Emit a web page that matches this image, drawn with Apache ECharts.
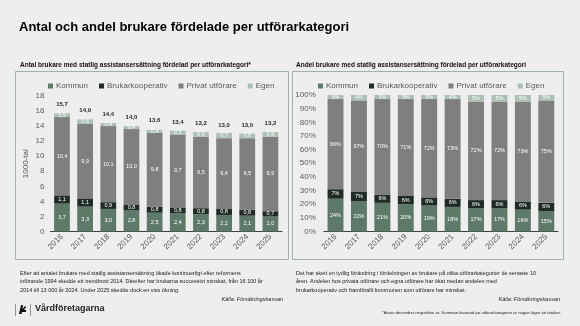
<!DOCTYPE html>
<html><head><meta charset="utf-8">
<script src="https://cdn.jsdelivr.net/npm/echarts@6/dist/echarts.min.js"></script>
<style>html,body{margin:0;padding:0;background:#eeeeee}#c{width:580px;height:326px}</style>
</head><body><div id="c"></div><script>
const years = ['2016','2017','2018','2019','2020','2021','2022','2023','2024','2025'];
const seriesNames = ['Kommun','Brukarkooperativ','Privat utförare','Egen'];
const kommun = [3.7,3.3,3.0,2.8,2.5,2.4,2.3,2.2,2.1,2.0];
const brukar = [1.1,1.1,0.9,0.8,0.8,0.8,0.8,0.8,0.8,0.7];
const privat = [10.4,9.9,10.1,10.0,9.8,9.7,9.5,9.4,9.5,9.9];
const egen = [0.5,0.6,0.4,0.4,0.4,0.5,0.6,0.7,0.6,0.6];
const totals = [15.7,14.9,14.4,14.0,13.6,13.4,13.2,13.0,13.0,13.2];
const kommunPct = [24,22,21,20,19,18,17,17,16,15];
const brukarPct = [7,7,6,6,6,6,6,6,6,6];
const privatPct = [66,67,70,71,72,73,72,72,73,75];
const egenPct = [3,4,3,3,3,4,5,5,5,5];

const colors = ['#5d7a68','#1f2c25','#7f7f7f','#a9c0b2'];
const FONT = '"Liberation Sans", Arial, sans-serif';
const grey = '#595959';
const fmtNum = v => v.toFixed(1).replace('.', ',');

const chart = echarts.init(document.getElementById('c'), null, {renderer:'canvas'});

function barSeries(data, idx, axisIdx, pct){
  return {
    name: seriesNames[idx], type:'bar', stack: 's'+axisIdx,
    xAxisIndex: axisIdx, yAxisIndex: axisIdx,
    data: data, barWidth: '68%', itemStyle:{color: colors[idx]},
    label:{show:true, position:'inside', color:'#ffffff', fontSize:5.5, fontFamily: FONT,
      formatter: p => pct ? p.value + '%' : fmtNum(p.value)},
    emphasis:{disabled:true}, animation:false
  };
}

const legendBase = {
  icon:'rect', itemWidth:5, itemHeight:5, itemGap:11,
  textStyle:{fontSize:8, color:grey, fontFamily:FONT, padding:[0,0,0,-2]},
  data: seriesNames, selectedMode:false
};

const option = {
  backgroundColor:'#eeeeee',
  animation:false,
  textStyle:{fontFamily:FONT},
  legend:[
    Object.assign({left:43, top:77}, legendBase),
    Object.assign({left:313, top:77}, legendBase)
  ],
  grid:[
    {left:50.4, right:298, top:96, bottom:94.5},
    {left:323.8, right:22, top:95, bottom:94.5}
  ],
  xAxis:[
    {type:'category', gridIndex:0, data:years,
     axisLine:{lineStyle:{color:'#404040', width:1}}, axisTick:{show:false},
     axisLabel:{rotate:45, fontSize:8, color:grey, fontFamily:FONT, margin:4}},
    {type:'category', gridIndex:1, data:years,
     axisLine:{lineStyle:{color:'#404040', width:1}}, axisTick:{show:false},
     axisLabel:{rotate:45, fontSize:8, color:grey, fontFamily:FONT, margin:4}}
  ],
  yAxis:[
    {type:'value', gridIndex:0, min:0, max:18, interval:2,
     name:'1000-tal', nameLocation:'middle', nameGap:21,
     nameTextStyle:{fontSize:8, color:grey, fontFamily:FONT},
     axisLine:{show:false}, axisTick:{show:false}, splitLine:{show:false},
     axisLabel:{fontSize:8, color:grey, fontFamily:FONT, margin:6}},
    {type:'value', gridIndex:1, min:0, max:100, interval:10,
     axisLine:{show:false}, axisTick:{show:false}, splitLine:{show:false},
     axisLabel:{fontSize:8, color:grey, fontFamily:FONT, margin:8, formatter:'{value}%'}}
  ],
  series:[
    barSeries(kommun,0,0,false),
    barSeries(brukar,1,0,false),
    barSeries(privat,2,0,false),
    barSeries(egen,3,0,false),
    {type:'line', name:'Totalt', xAxisIndex:0, yAxisIndex:0, data: totals,
     symbol:'circle', symbolSize:1, showSymbol:true, itemStyle:{color:'rgba(0,0,0,0)'},
     lineStyle:{color:'rgba(0,0,0,0)', width:0}, silent:true, z:10,
     label:{show:true, position:'top', distance:5, fontSize:6, fontWeight:'bold', color:'#262626',
       fontFamily:FONT, formatter: p => fmtNum(p.value)}},
    barSeries(kommunPct,0,1,true),
    barSeries(brukarPct,1,1,true),
    barSeries(privatPct,2,1,true),
    barSeries(egenPct,3,1,true)
  ],
  graphic:[
    {type:'text', left:19, top:21, style:{text:'Antal och andel brukare fördelade per utförarkategori',
      font:'bold 13px "Liberation Sans", Arial', fill:'#000'}},
    {type:'text', left:20, top:62, style:{text:'Antal brukare med statlig assistansersättning fördelad per utförarkategori*',
      font:'bold 6.5px "Liberation Sans", Arial', fill:'#111'}},
    {type:'text', left:296, top:62, style:{text:'Andel brukare med statlig assistansersättning fördelad per utförarkategori',
      font:'bold 6.5px "Liberation Sans", Arial', fill:'#111'}},
    {type:'rect', shape:{x:15.5, y:71.5, width:273, height:188}, style:{fill:'none', stroke:'#9fb2a7', lineWidth:1}, silent:true, z:-1},
    {type:'rect', shape:{x:292.5, y:71.5, width:271, height:188}, style:{fill:'none', stroke:'#9fb2a7', lineWidth:1}, silent:true, z:-1},
    {type:'text', left:20, top:269, style:{text:'Efter att antalet brukare med statlig assistansersättning ökade kontinuerligt efter reformens\ninförande 1994 skedde ett trendbrott 2014. Därefter har brukarna successivt minskat, från 16 100 år\n2014 till 13 000 år 2024. Under 2025 skedde dock en viss ökning.',
      font:'5.5px "Liberation Sans", Arial', fill:'#222', lineHeight:8.5}},
    {type:'text', left:296, top:269, style:{text:'Det har skett en tydlig förändring i fördelningen av brukare på olika utförarkategorier de senaste 10\nåren. Andelen hos privata utförare och egna utförare har ökat medan andelen med\nbrukarkooperativ och framförallt kommunen som utförare har minskat.',
      font:'5.5px "Liberation Sans", Arial', fill:'#222', lineHeight:8.5}},
    {type:'text', right:297, top:296, style:{text:'Källa: Försäkringskassan', font:'italic 5.5px "Liberation Sans", Arial', fill:'#222'}},
    {type:'text', right:20, top:296, style:{text:'Källa: Försäkringskassan', font:'italic 5.5px "Liberation Sans", Arial', fill:'#222'}},
    {type:'text', right:19, top:311, style:{text:'*Avser december respektive år. Summan baserad på utförarkategorier är någon lägre än totalen.', font:'4.2px "Liberation Sans", Arial', fill:'#222'}},
    {type:'line', shape:{x1:15.5, y1:304, x2:15.5, y2:316}, style:{stroke:'#555', lineWidth:0.6}},
    {type:'polygon', shape:{points:[[19,314],[21,305],[23,305],[22.5,309],[25,306],[26,307],[24,310],[26,310],[26,312],[22,312],[21.5,314]]}, style:{fill:'#111'}},
    {type:'line', shape:{x1:30.5, y1:304, x2:30.5, y2:316}, style:{stroke:'#555', lineWidth:0.6}},
    {type:'text', left:35, top:304, style:{text:'Vårdföretagarna', font:'bold 9px "Liberation Sans", Arial', fill:'#222'}}
  ]
};
chart.setOption(option);
</script></body></html>
